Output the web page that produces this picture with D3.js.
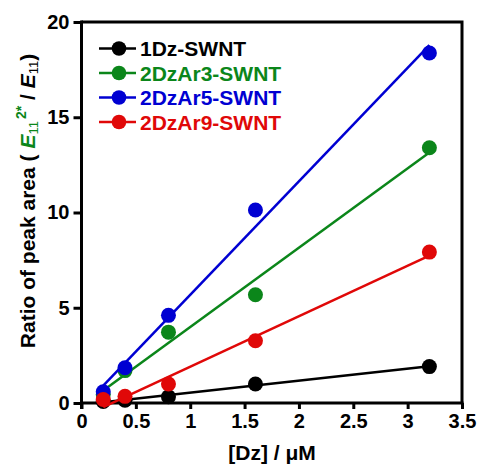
<!DOCTYPE html>
<html>
<head>
<meta charset="utf-8">
<script src="https://cdn.jsdelivr.net/npm/d3@7/dist/d3.min.js"></script>
<style>
  html, body { margin: 0; padding: 0; background: #fff; }
  svg { display: block; font-family: "Liberation Sans", Arial, sans-serif; }
</style>
</head>
<body>
<svg id="chart" width="480" height="468"></svg>
<script>
// Dz concentration (µM)
const dzConc = [0.2, 0.4, 0.8, 1.6, 3.2];

// Peak-area ratio for each sample
const series1Dz    = [0.08, 0.15, 0.33, 1.00, 1.91];
const series2DzAr3 = [0.45, 1.70, 3.72, 5.68, 13.40];
const series2DzAr5 = [0.59, 1.85, 4.60, 10.13, 18.37];
const series2DzAr9 = [0.18, 0.35, 1.00, 3.27, 7.92];

const seriesNames  = ["1Dz-SWNT", "2DzAr3-SWNT", "2DzAr5-SWNT", "2DzAr9-SWNT"];
const seriesColors = ["#000000", "#0b861a", "#0000d2", "#e00808"];

const xTicks = [0, 0.5, 1, 1.5, 2, 2.5, 3, 3.5];
const yTicks = [0, 5, 10, 15, 20];

const seriesValues = [series1Dz, series2DzAr3, series2DzAr5, series2DzAr9];

const svg = d3.select("#chart");
const plotLeft = 81.5, plotRight = 462, plotTop = 22, plotBottom = 403;

const x = d3.scaleLinear().domain([0, 3.5]).range([plotLeft, plotRight]);
const y = d3.scaleLinear().domain([0, 20]).range([plotBottom, plotTop]);

// least-squares line through each series
function linearFit(xs, ys) {
  const mx = d3.mean(xs), my = d3.mean(ys);
  let sxy = 0, sxx = 0;
  xs.forEach((v, i) => { sxy += (v - mx) * (ys[i] - my); sxx += (v - mx) * (v - mx); });
  const slope = sxy / sxx;
  return { slope, intercept: my - slope * mx };
}

// frame (top and right edges)
svg.append("path")
  .attr("d", `M${plotLeft},${plotTop}H${plotRight}V${plotBottom}`)
  .attr("fill", "none").attr("stroke", "#000").attr("stroke-width", 3);

// axes
const xAxis = d3.axisBottom(x).tickValues(xTicks).tickSize(6).tickPadding(5)
  .tickFormat(d3.format("~g"));
const yAxis = d3.axisLeft(y).tickValues(yTicks).tickSize(8).tickPadding(4);

const gx = svg.append("g").attr("transform", `translate(0,${plotBottom})`).call(xAxis);
const gy = svg.append("g").attr("transform", `translate(${plotLeft},0)`).call(yAxis);

[gx, gy].forEach(g => {
  g.select(".domain").attr("stroke-width", 3).attr("stroke", "#000");
  g.selectAll(".tick line").attr("stroke-width", 3).attr("stroke", "#000");
  g.selectAll(".tick text")
    .attr("font-family", "Liberation Sans, Arial, sans-serif")
    .attr("font-size", 20).attr("font-weight", "bold").attr("fill", "#000");
});
gx.select(".domain").attr("d", `M${plotLeft - 1.5},0H${plotRight + 1.5}`);
gy.select(".domain").attr("d", `M0,${plotBottom + 6}V${plotTop - 1.5}`);

// fitted lines and points
seriesValues.forEach((vals, s) => {
  const fit = linearFit(dzConc, vals);
  const x0 = d3.min(dzConc), x1 = d3.max(dzConc);
  svg.append("line")
    .attr("x1", x(x0)).attr("y1", y(fit.intercept + fit.slope * x0))
    .attr("x2", x(x1)).attr("y2", y(fit.intercept + fit.slope * x1))
    .attr("stroke", seriesColors[s]).attr("stroke-width", 2.5);
  svg.append("g").selectAll("circle")
    .data(vals)
    .join("circle")
    .attr("cx", (d, i) => x(dzConc[i]))
    .attr("cy", d => y(d))
    .attr("r", 7.5)
    .attr("fill", seriesColors[s]);
});

// legend
const legend = svg.append("g");
seriesNames.forEach((name, s) => {
  const cy = 48.5 + s * 24.5;
  legend.append("line")
    .attr("x1", 99).attr("x2", 136).attr("y1", cy).attr("y2", cy)
    .attr("stroke", seriesColors[s]).attr("stroke-width", 2.5);
  legend.append("circle")
    .attr("cx", 119).attr("cy", cy).attr("r", 7.3).attr("fill", seriesColors[s]);
  legend.append("text")
    .attr("x", 140).attr("y", cy + 7.5)
    .attr("font-size", 21).attr("font-weight", "bold")
    .attr("fill", seriesColors[s])
    .text(name);
});

// x-axis title
svg.append("text")
  .attr("x", 272).attr("y", 460)
  .attr("text-anchor", "middle")
  .attr("font-size", 21).attr("font-weight", "bold")
  .text("[Dz] / \u03BCM");

// y-axis title with subscripts / superscript
const yt = svg.append("text")
  .attr("transform", "translate(35,201) rotate(-90)")
  .attr("text-anchor", "middle")
  .attr("font-size", 21).attr("font-weight", "bold").attr("fill", "#000");
yt.append("tspan").text("Ratio of peak area ( ");
yt.append("tspan").attr("font-style", "italic").attr("fill", seriesColors[1]).text("E");
yt.append("tspan").attr("font-size", 13).attr("font-weight", "normal")
  .attr("fill", seriesColors[1]).attr("dy", 3).text("11");
yt.append("tspan").attr("font-size", 14).attr("fill", seriesColors[1])
  .attr("dx", 2).attr("dy", -12).text("2*");
yt.append("tspan").attr("dy", 9).text(" / ");
yt.append("tspan").attr("font-style", "italic").text("E");
yt.append("tspan").attr("font-size", 13).attr("font-weight", "normal")
  .attr("dy", 3).text("11");
yt.append("tspan").attr("dy", -3).text(")");
</script>
</body>
</html>
